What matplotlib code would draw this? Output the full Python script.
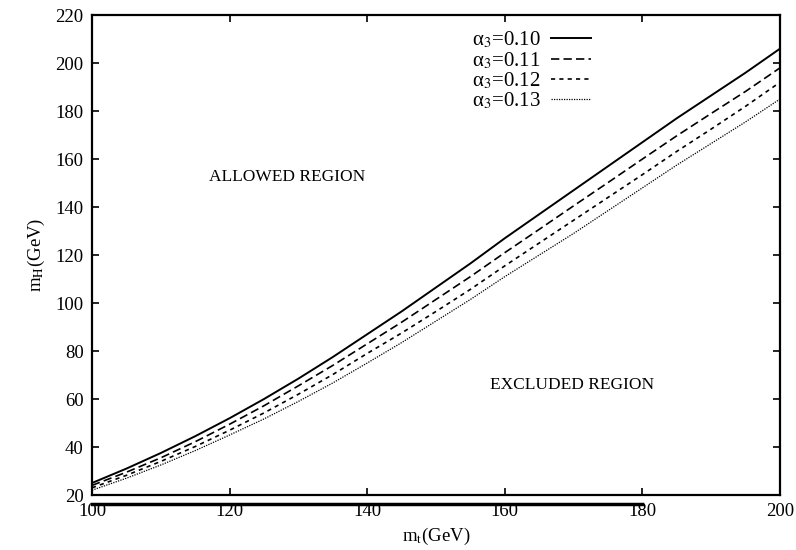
import matplotlib
matplotlib.use('Agg')
import matplotlib.pyplot as plt
import matplotlib.transforms as mtransforms

plt.rcParams['font.family'] = ['Liberation Serif', 'DejaVu Serif']
plt.rcParams['mathtext.fontset'] = 'stix'

# top quark mass (GeV)
mt = [100, 105, 110, 115, 120, 125, 130, 135, 140, 145, 150,
      155, 160, 165, 170, 175, 180, 185, 190, 195, 200]

# lower bound on Higgs mass for each alpha_3
mh_010 = [25, 31, 37.5, 44.5, 52, 60, 68.5, 77.5, 87, 96.5, 106.5,
          116.5, 127, 137, 147, 157, 167, 177, 186.5, 196, 206]
mh_011 = [24, 29.5, 35.5, 42.2, 49.5, 57.2, 65.5, 74, 83, 92, 101.5,
          111, 121, 130.7, 140.5, 150.2, 160, 169.7, 179, 188.2, 198]
mh_012 = [23, 28.2, 34, 40.2, 47, 54.2, 62, 70.2, 79, 87.5, 96.5,
          105.7, 115.5, 125, 134.5, 144, 153.5, 163.2, 172.5, 182, 192]
mh_013 = [22, 27, 32.5, 38.5, 45, 51.7, 59, 66.7, 75, 83.5, 92.5,
          101.5, 111, 120, 129, 138.5, 148, 157.5, 166.5, 175.5, 185]

labels = ['α$_3$=0.10', 'α$_3$=0.11', 'α$_3$=0.12', 'α$_3$=0.13']
xticks = [100, 120, 140, 160, 180, 200]
yticks = [20, 40, 60, 80, 100, 120, 140, 160, 180, 200, 220]

# stray bar under the x axis in the scan
bar_x = [100, 180]

fig = plt.figure(figsize=(7.96, 5.5), dpi=100)
ax = fig.add_axes([0.1156, 0.1, 0.8644, 0.8727])

ax.plot(mt, mh_010, color='black', lw=1.4, linestyle='-', label=labels[0])
ax.plot(mt, mh_011, color='black', lw=1.2, linestyle=(0, (5, 2.5)), label=labels[1])
ax.plot(mt, mh_012, color='black', lw=1.2, linestyle=(0, (2.5, 2.5)), label=labels[2])
ax.plot(mt, mh_013, color='black', lw=0.9, linestyle=(0, (1, 1)), label=labels[3])

ax.set_xlim(100, 200)
ax.set_ylim(20, 220)
ax.set_xticks(xticks)
ax.set_yticks(yticks)
ax.tick_params(direction='in', top=True, right=True, length=5, width=1.2,
               labelsize=13.5, pad=6)
for s in ax.spines.values():
    s.set_linewidth(1.6)

ax.set_xlabel(r'm$_\mathrm{t}$(GeV)', fontsize=13.5, labelpad=4)
ax.set_ylabel(r'm$_\mathrm{H}$(GeV)', fontsize=13.5, labelpad=6)

ax.text(128.4, 152.5, 'ALLOWED REGION', fontsize=12.5, ha='center', va='center')
ax.text(169.7, 66, 'EXCLUDED REGION', fontsize=12.5, ha='center', va='center')

leg = ax.legend(loc='upper left', bbox_to_anchor=(0.54, 0.986), frameon=False,
                markerfirst=False, fontsize=15, handlelength=1.9,
                labelspacing=-0.03, handletextpad=0.5, borderaxespad=0)

trans = mtransforms.blended_transform_factory(ax.transData, ax.transAxes)
ax.plot(bar_x, [-0.019, -0.019], color='black', lw=2.5, transform=trans,
        clip_on=False)

fig.savefig('out.png', dpi=100)
